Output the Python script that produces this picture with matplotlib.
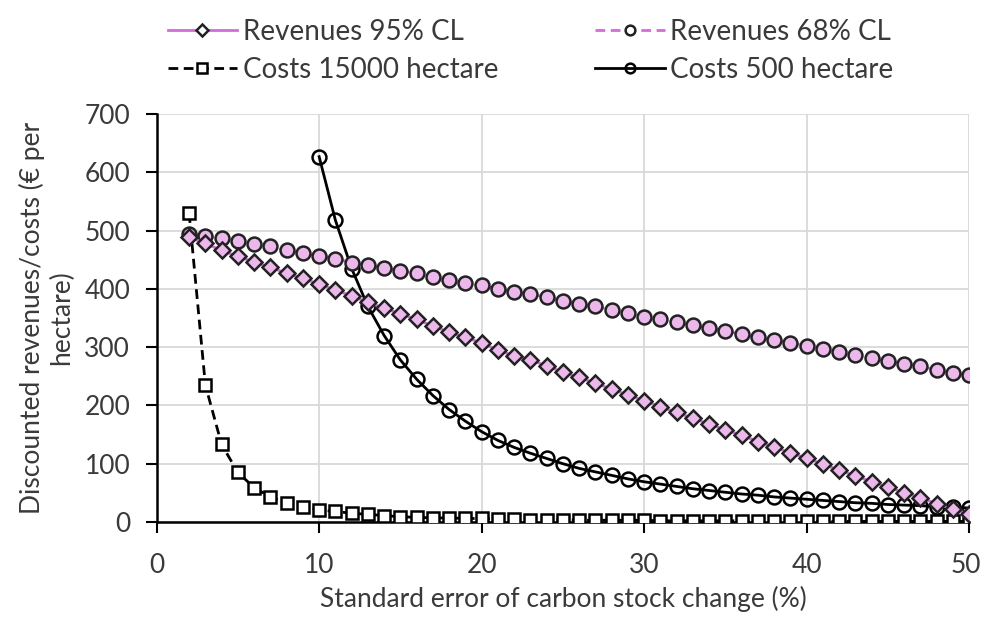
import matplotlib
matplotlib.use("Agg")
import matplotlib.pyplot as plt
import matplotlib.transforms as mtransforms
from matplotlib.lines import Line2D

plt.rcParams['font.family'] = ['Lato', 'DejaVu Sans']

x_err = list(range(2, 51))
rev95 = [489, 478, 466, 456, 446, 437, 427, 418, 408, 398, 388, 377, 367, 357, 348, 336, 326, 317, 307, 295,
         285, 278, 268, 257, 248, 238, 228, 218, 208, 198, 188, 178, 168, 158, 149, 138, 129, 118, 110, 99,
         89, 79, 69, 60, 50, 42, 31, 22, 14]
rev68 = [495, 491, 487, 483, 477, 473, 466, 461, 457, 452, 445, 441, 436, 431, 427, 420, 415, 410, 406, 400,
         395, 391, 386, 380, 374, 370, 364, 358, 352, 348, 343, 338, 333, 328, 322, 317, 312, 308, 302, 297,
         292, 286, 281, 276, 272, 267, 261, 256, 252]
costs15000 = [530, 235, 133, 85, 59, 43, 33, 26, 21, 18, 15, 13, 11, 9, 8, 7, 7, 6, 6, 5,
              5, 4, 4, 4, 3, 3, 3, 3, 3, 2, 2, 2, 2, 2, 2, 2, 2, 2, 1, 1,
              1, 1, 1, 1, 1, 1, 1, 1, 1]
x500 = list(range(10, 51))
costs500 = [627, 518, 435, 370, 320, 278, 245, 217, 193, 173, 155, 140, 128, 118, 109, 100, 92, 86, 80, 74,
            69, 65, 61, 57, 54, 51, 48, 46, 43, 41, 39, 37, 35, 33, 32, 30, 29, 28, 26, 25, 24]

xticks = [0, 10, 20, 30, 40, 50]
yticks = [0, 100, 200, 300, 400, 500, 600, 700]

magenta = '#d36bd8'
pinkface = '#ecb8ec'
txtcol = '#3a3a3a'
fs = 19

fig = plt.figure(figsize=(9.85, 6.17), dpi=100)
ax = fig.add_axes([0.159, 0.154, 0.825, 0.661])

ax.plot(x_err, costs15000, color='black', lw=2, ls=(0, (3.5, 2)), marker='s', ms=8,
        mfc='white', mec='black', mew=1.8, zorder=3)
ax.plot(x500, costs500, color='black', lw=2, ls='-', marker='o', ms=10,
        mfc='none', mec='black', mew=1.8, zorder=3)
ax.plot(x_err, rev68, color=magenta, lw=2, ls=(0, (3.5, 2)), marker='o', ms=10,
        mfc=pinkface, mec='#222222', mew=1.8, zorder=4)
ax.plot(x_err, rev95, color=magenta, lw=2, ls='-', marker='D', ms=8,
        mfc=pinkface, mec='#222222', mew=1.8, zorder=4)

ax.set_xlim(0, 50)
ax.set_ylim(0, 700)
ax.set_xticks(xticks)
ax.set_yticks(yticks)
ax.grid(True, color='#d9d9d9', lw=1.3)
ax.set_axisbelow(True)
for s in ['top', 'right']:
    ax.spines[s].set_visible(False)
for s in ['left', 'bottom']:
    ax.spines[s].set_linewidth(1.8)
ax.tick_params(axis='both', labelsize=fs, width=1.5, length=8, direction='out',
               color='black', labelcolor=txtcol)
ax.tick_params(axis='y', pad=11)
ax.tick_params(axis='x', pad=14)
ax.set_xlabel('Standard error of carbon stock change (%)', fontsize=fs, color=txtcol, labelpad=6)
ax.set_ylabel('Discounted revenues/costs (€ per\nhectare)', fontsize=fs, color=txtcol,
              linespacing=1.25, labelpad=7)

# keep the last x tick label inside the canvas
fig.canvas.draw()
last = ax.get_xticklabels()[-1]
last.set_transform(last.get_transform() + mtransforms.ScaledTranslation(-3 / 100, 0, fig.dpi_scale_trans))

h95 = Line2D([], [], color=magenta, lw=2, ls='-', marker='D', ms=6.5, mfc='white', mec='#222222', mew=1.8)
h68 = Line2D([], [], color=magenta, lw=2, ls=(0, (3.5, 2)), marker='o', ms=7, mfc='white', mec='#222222', mew=1.8)
h15k = Line2D([], [], color='black', lw=2, ls=(0, (3.5, 2)), marker='s', ms=6.5, mfc='white', mec='black', mew=1.8)
h500 = Line2D([], [], color='black', lw=2, ls='-', marker='o', ms=7, mfc='none', mec='black', mew=1.8)
handles = [h95, h15k, h68, h500]
labels = ['Revenues 95% CL', 'Costs 15000 hectare', 'Revenues 68% CL', 'Costs 500 hectare']
leg = fig.legend(handles, labels, ncol=2, loc='upper left', bbox_to_anchor=(0.151, 1.0),
                 frameon=False, fontsize=20, handlelength=2.5, handletextpad=0.2,
                 columnspacing=3.5, labelspacing=0.42, borderaxespad=0.28)
for t in leg.get_texts():
    t.set_color(txtcol)

fig.savefig('out.png', dpi=100)
